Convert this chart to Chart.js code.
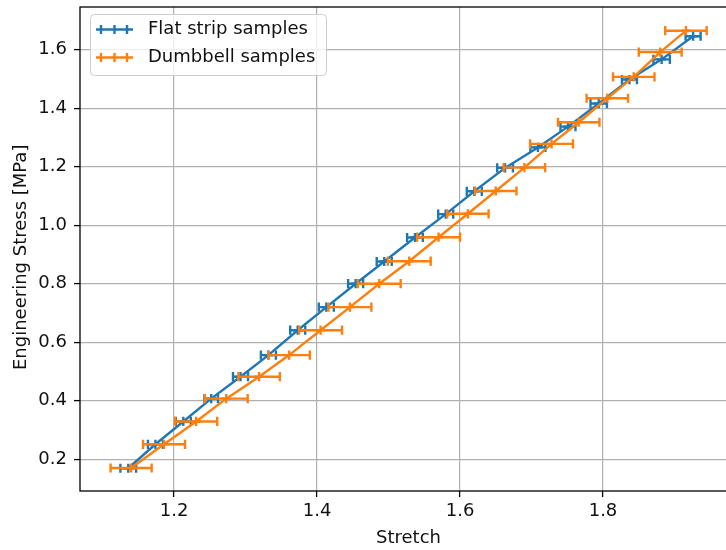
<!DOCTYPE html>
<html><head><meta charset="utf-8">
<script src="https://cdn.jsdelivr.net/npm/chart.js@4/dist/chart.umd.min.js"></script>
<style>html,body{margin:0;padding:0;overflow:hidden;background:#fff;width:726px;height:550px}canvas{display:block}</style>
</head><body>
<canvas id="c" width="745" height="550" style="width:745px;height:550px"></canvas>
<script>
const seriesLabels = ['Flat strip samples', 'Dumbbell samples'];
const flatStretch = [1.136, 1.174, 1.213, 1.252, 1.293, 1.332, 1.373, 1.413, 1.454, 1.494, 1.537, 1.580, 1.620, 1.663, 1.709, 1.751, 1.794, 1.837, 1.882, 1.926];
const flatStress = [0.169, 0.251, 0.329, 0.407, 0.482, 0.556, 0.641, 0.720, 0.800, 0.876, 0.958, 1.038, 1.116, 1.196, 1.266, 1.337, 1.416, 1.498, 1.567, 1.646];
const flatStretchErr = [0.011, 0.0105, 0.0105, 0.0095, 0.0105, 0.0105, 0.0105, 0.0105, 0.0105, 0.0105, 0.011, 0.0105, 0.0105, 0.011, 0.0105, 0.0105, 0.0115, 0.0105, 0.0115, 0.0105];
const dumbStretch = [1.140, 1.186, 1.231, 1.273, 1.319, 1.361, 1.405, 1.446, 1.487, 1.529, 1.570, 1.611, 1.650, 1.690, 1.728, 1.766, 1.806, 1.843, 1.880, 1.916];
const dumbStress = [0.170, 0.251, 0.329, 0.407, 0.482, 0.556, 0.641, 0.720, 0.800, 0.877, 0.959, 1.039, 1.117, 1.197, 1.278, 1.352, 1.434, 1.507, 1.592, 1.665];
const dumbStretchErr = [0.0287, 0.0294, 0.0294, 0.030, 0.029, 0.029, 0.030, 0.030, 0.030, 0.030, 0.030, 0.029, 0.029, 0.029, 0.030, 0.029, 0.029, 0.029, 0.030, 0.029];
const xTicks = [1.2, 1.4, 1.6, 1.8];
const yTicks = [0.2, 0.4, 0.6, 0.8, 1.0, 1.2, 1.4, 1.6];
const xTitle = 'Stretch';
const yTitle = 'Engineering Stress [MPa]';
const xRange = [1.0685, 1.9874];
const yRange = [0.0913, 1.746];

const FONT = '"DejaVu Sans", "Liberation Sans", sans-serif';
const BLUE = '#1f77b4', ORANGE = '#ff7f0e';
const LW = 2.4, CAP = 4.6;

function pts(xs, ys) { return xs.map((x, i) => ({ x: x, y: ys[i] })); }

const errorBars = {
  id: 'errorBars',
  afterDatasetDraw(chart, args) {
    const ds = chart.data.datasets[args.index];
    if (!ds.xErr) return;
    const xs = chart.scales.x, ys = chart.scales.y, ctx = chart.ctx;
    ctx.save();
    ctx.strokeStyle = ds.borderColor; ctx.lineWidth = LW; ctx.lineCap = 'butt';
    ds.data.forEach((p, i) => {
      const y = ys.getPixelForValue(p.y);
      const x0 = xs.getPixelForValue(p.x - ds.xErr[i]);
      const x1 = xs.getPixelForValue(p.x + ds.xErr[i]);
      ctx.beginPath();
      ctx.moveTo(x0, y); ctx.lineTo(x1, y);
      ctx.moveTo(x0, y - CAP); ctx.lineTo(x0, y + CAP);
      ctx.moveTo(x1, y - CAP); ctx.lineTo(x1, y + CAP);
      ctx.stroke();
    });
    ctx.restore();
  }
};

const frameAndLegend = {
  id: 'frameAndLegend',
  afterDatasetsDraw(chart) {
    const a = chart.chartArea, ctx = chart.ctx;
    ctx.save();
    ctx.strokeStyle = '#000'; ctx.lineWidth = 1.3;
    ctx.strokeRect(a.left, a.top, a.right - a.left, a.bottom - a.top);
    ctx.restore();
  },
  afterDraw(chart) {
    const ctx = chart.ctx;
    ctx.save();
    const bx = 90.5, by = 14.5, bw = 236, bh = 61, r = 4;
    ctx.beginPath();
    ctx.moveTo(bx + r, by); ctx.lineTo(bx + bw - r, by); ctx.arcTo(bx + bw, by, bx + bw, by + r, r);
    ctx.lineTo(bx + bw, by + bh - r); ctx.arcTo(bx + bw, by + bh, bx + bw - r, by + bh, r);
    ctx.lineTo(bx + r, by + bh); ctx.arcTo(bx, by + bh, bx, by + bh - r, r);
    ctx.lineTo(bx, by + r); ctx.arcTo(bx, by, bx + r, by, r);
    ctx.closePath();
    ctx.fillStyle = 'rgba(255,255,255,0.8)'; ctx.fill();
    ctx.strokeStyle = '#cccccc'; ctx.lineWidth = 1; ctx.stroke();
    const rows = [29.5, 57.5];
    chart.data.datasets.forEach((ds, i) => {
      const y = rows[i];
      ctx.strokeStyle = ds.borderColor; ctx.lineWidth = LW;
      ctx.beginPath();
      ctx.moveTo(96, y); ctx.lineTo(133, y);
      [101, 114.5, 127].forEach(x => { ctx.moveTo(x, y - CAP); ctx.lineTo(x, y + CAP); });
      ctx.stroke();
      ctx.fillStyle = '#111'; ctx.font = '18px ' + FONT;
      ctx.textBaseline = 'middle'; ctx.textAlign = 'left';
      ctx.fillText(ds.label, 148, y);
    });
    ctx.translate(26, 370); ctx.rotate(-Math.PI / 2);
    ctx.fillStyle = '#111'; ctx.font = '18px ' + FONT;
    ctx.textBaseline = 'alphabetic'; ctx.textAlign = 'left';
    ctx.fillText(yTitle, 0, 0);
    ctx.restore();
  }
};

new Chart(document.getElementById('c'), {
  type: 'scatter',
  data: {
    datasets: [
      { label: seriesLabels[0], data: pts(flatStretch, flatStress), xErr: flatStretchErr,
        borderColor: BLUE, backgroundColor: BLUE, showLine: true, borderWidth: LW, tension: 0, fill: false,
        pointStyle: 'cross', pointRadius: CAP, pointBorderWidth: LW, pointBorderColor: BLUE, order: 2 },
      { label: seriesLabels[1], data: pts(dumbStretch, dumbStress), xErr: dumbStretchErr,
        borderColor: ORANGE, backgroundColor: ORANGE, showLine: true, borderWidth: LW, tension: 0, fill: false,
        pointStyle: 'cross', pointRadius: CAP, pointBorderWidth: LW, pointBorderColor: ORANGE, order: 1 }
    ]
  },
  options: {
    responsive: false, animation: false, events: [],
    layout: { padding: { left: 0, top: 4, right: 8, bottom: 0 } },
    plugins: { legend: { display: false }, tooltip: { enabled: false } },
    scales: {
      x: {
        type: 'linear', min: xRange[0], max: xRange[1],
        afterBuildTicks: s => { s.ticks = xTicks.map(v => ({ value: v })); },
        afterFit: s => { s.height = 59; s.paddingLeft = 0; s.paddingRight = 0; },
        ticks: { callback: v => v.toFixed(1), font: { family: FONT, size: 18 }, color: '#111', padding: 4, maxRotation: 0, autoSkip: false },
        grid: { color: '#b0b0b0', lineWidth: 1.2, drawTicks: true, tickLength: 6, tickColor: '#000', tickWidth: 1.3 },
        border: { display: false },
        title: { display: true, text: xTitle, font: { family: FONT, size: 18 }, color: '#111', padding: { top: 0, bottom: 1 } }
      },
      y: {
        type: 'linear', min: yRange[0], max: yRange[1],
        afterBuildTicks: s => { s.ticks = yTicks.map(v => ({ value: v })); },
        afterFit: s => { s.width = 80; s.paddingTop = 0; s.paddingBottom = 0; },
        ticks: { callback: v => v.toFixed(1), font: { family: FONT, size: 18 }, color: '#111', padding: 7, autoSkip: false },
        grid: { color: '#b0b0b0', lineWidth: 1.2, drawTicks: true, tickLength: 6, tickColor: '#000', tickWidth: 1.3 },
        border: { display: false },
        title: { display: false }
      }
    }
  },
  plugins: [errorBars, frameAndLegend]
});
</script>
</body></html>
